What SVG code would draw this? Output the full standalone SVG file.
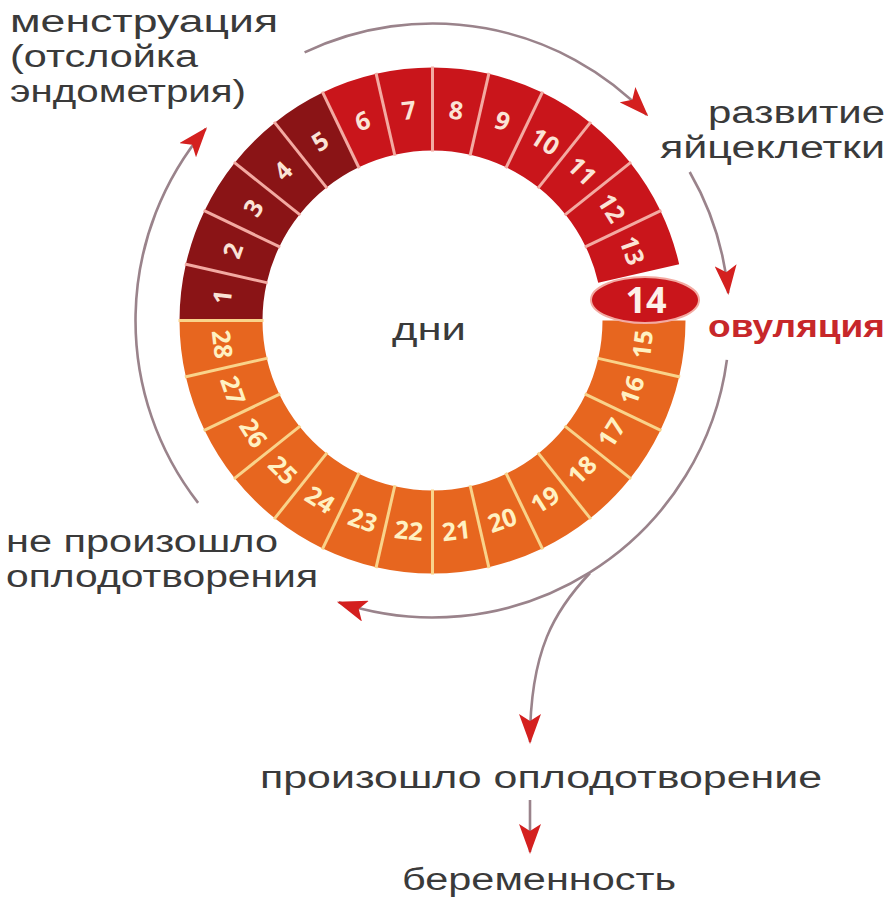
<svg xmlns="http://www.w3.org/2000/svg" width="890" height="904" viewBox="0 0 890 904">
<style>
.lbl{font-family:"Liberation Sans","Open Sans",sans-serif;font-size:31px;fill:#3a3a3a}
.red-lbl{fill:#c7272a;font-weight:700}
.seg{fill:none;stroke-width:83}
.dark{stroke:#8a1416}
.redd{stroke:#c9151b}
.orng{stroke:#e7661f}
.sepR{stroke:#f3aaa2;stroke-width:3}
.sepO{stroke:#f9d38a;stroke-width:3}
.num{font-family:"Open Sans","DejaVu Sans",sans-serif;font-weight:700;font-size:25px;text-anchor:middle}
.numR{fill:#fbe3d6}
.numO{fill:#fff1c2}
.conn{fill:none;stroke:#9a838b;stroke-width:2.6;marker-end:url(#ah)}
</style>
<defs>
<marker id="ah" markerUnits="userSpaceOnUse" markerWidth="30" markerHeight="22" viewBox="0 0 30 22" refX="28" refY="11" orient="auto">
<path d="M0,0 L30,11 L0,22 L7,11 z" fill="#d4201f"/>
</marker>
</defs>
<rect width="890" height="904" fill="#ffffff"/>

<g id="ring">
<g id="day-1"><path class="seg dark" d="M221,320.5 A211.5,211.5 0 0 1 226.3,273.44"/><text class="num numR" y="9" transform="translate(432.5 320.5) rotate(6.43) translate(-211.5 0) rotate(-90)">1</text></g>
<g id="day-2"><path class="seg dark" d="M226.3,273.44 A211.5,211.5 0 0 1 241.95,228.73"/><text class="num numR" y="9" transform="translate(432.5 320.5) rotate(19.29) translate(-211.5 0) rotate(-90)">2</text></g>
<g id="day-3"><path class="seg dark" d="M241.95,228.73 A211.5,211.5 0 0 1 267.14,188.63"/><text class="num numR" y="9" transform="translate(432.5 320.5) rotate(32.14) translate(-211.5 0) rotate(-90)">3</text></g>
<g id="day-4"><path class="seg dark" d="M267.14,188.63 A211.5,211.5 0 0 1 300.63,155.14"/><text class="num numR" y="9" transform="translate(432.5 320.5) rotate(45) translate(-211.5 0) rotate(-90)">4</text></g>
<g id="day-5"><path class="seg dark" d="M300.63,155.14 A211.5,211.5 0 0 1 340.73,129.95"/><text class="num numR" y="9" transform="translate(432.5 320.5) rotate(57.86) translate(-211.5 0) rotate(-90)">5</text></g>
<g id="day-6"><path class="seg redd" d="M340.73,129.95 A211.5,211.5 0 0 1 385.44,114.3"/><text class="num numR" y="9" transform="translate(432.5 320.5) rotate(70.71) translate(-211.5 0) rotate(-90)">6</text></g>
<g id="day-7"><path class="seg redd" d="M385.44,114.3 A211.5,211.5 0 0 1 432.5,109"/><text class="num numR" y="9" transform="translate(432.5 320.5) rotate(83.57) translate(-211.5 0) rotate(-90)">7</text></g>
<g id="day-8"><path class="seg redd" d="M432.5,109 A211.5,211.5 0 0 1 479.56,114.3"/><text class="num numR" y="9" transform="translate(432.5 320.5) rotate(96.43) translate(-211.5 0) rotate(-90)">8</text></g>
<g id="day-9"><path class="seg redd" d="M479.56,114.3 A211.5,211.5 0 0 1 524.27,129.95"/><text class="num numR" y="9" transform="translate(432.5 320.5) rotate(109.29) translate(-211.5 0) rotate(-90)">9</text></g>
<g id="day-10"><path class="seg redd" d="M524.27,129.95 A211.5,211.5 0 0 1 564.37,155.14"/><text class="num numR" y="9" transform="translate(432.5 320.5) rotate(122.14) translate(-211.5 0) rotate(-90)">10</text></g>
<g id="day-11"><path class="seg redd" d="M564.37,155.14 A211.5,211.5 0 0 1 597.86,188.63"/><text class="num numR" y="9" transform="translate(432.5 320.5) rotate(135) translate(-211.5 0) rotate(-90)">11</text></g>
<g id="day-12"><path class="seg redd" d="M597.86,188.63 A211.5,211.5 0 0 1 623.05,228.73"/><text class="num numR" y="9" transform="translate(432.5 320.5) rotate(147.86) translate(-211.5 0) rotate(-90)">12</text></g>
<g id="day-13"><path class="seg redd" d="M623.05,228.73 A211.5,211.5 0 0 1 638.7,273.44"/><text class="num numR" y="9" transform="translate(432.5 320.5) rotate(160.71) translate(-211.5 0) rotate(-90)">13</text></g>
<g id="day-15"><path class="seg orng" d="M644,320.5 A211.5,211.5 0 0 1 638.7,367.56"/><text class="num numO" y="9" transform="translate(432.5 320.5) rotate(186.43) translate(-211.5 0) rotate(90)">15</text></g>
<g id="day-16"><path class="seg orng" d="M638.7,367.56 A211.5,211.5 0 0 1 623.05,412.27"/><text class="num numO" y="9" transform="translate(432.5 320.5) rotate(199.29) translate(-211.5 0) rotate(90)">16</text></g>
<g id="day-17"><path class="seg orng" d="M623.05,412.27 A211.5,211.5 0 0 1 597.86,452.37"/><text class="num numO" y="9" transform="translate(432.5 320.5) rotate(212.14) translate(-211.5 0) rotate(90)">17</text></g>
<g id="day-18"><path class="seg orng" d="M597.86,452.37 A211.5,211.5 0 0 1 564.37,485.86"/><text class="num numO" y="9" transform="translate(432.5 320.5) rotate(225) translate(-211.5 0) rotate(90)">18</text></g>
<g id="day-19"><path class="seg orng" d="M564.37,485.86 A211.5,211.5 0 0 1 524.27,511.05"/><text class="num numO" y="9" transform="translate(432.5 320.5) rotate(237.86) translate(-211.5 0) rotate(90)">19</text></g>
<g id="day-20"><path class="seg orng" d="M524.27,511.05 A211.5,211.5 0 0 1 479.56,526.7"/><text class="num numO" y="9" transform="translate(432.5 320.5) rotate(250.71) translate(-211.5 0) rotate(90)">20</text></g>
<g id="day-21"><path class="seg orng" d="M479.56,526.7 A211.5,211.5 0 0 1 432.5,532"/><text class="num numO" y="9" transform="translate(432.5 320.5) rotate(263.57) translate(-211.5 0) rotate(90)">21</text></g>
<g id="day-22"><path class="seg orng" d="M432.5,532 A211.5,211.5 0 0 1 385.44,526.7"/><text class="num numO" y="9" transform="translate(432.5 320.5) rotate(276.43) translate(-211.5 0) rotate(90)">22</text></g>
<g id="day-23"><path class="seg orng" d="M385.44,526.7 A211.5,211.5 0 0 1 340.73,511.05"/><text class="num numO" y="9" transform="translate(432.5 320.5) rotate(289.29) translate(-211.5 0) rotate(90)">23</text></g>
<g id="day-24"><path class="seg orng" d="M340.73,511.05 A211.5,211.5 0 0 1 300.63,485.86"/><text class="num numO" y="9" transform="translate(432.5 320.5) rotate(302.14) translate(-211.5 0) rotate(90)">24</text></g>
<g id="day-25"><path class="seg orng" d="M300.63,485.86 A211.5,211.5 0 0 1 267.14,452.37"/><text class="num numO" y="9" transform="translate(432.5 320.5) rotate(315) translate(-211.5 0) rotate(90)">25</text></g>
<g id="day-26"><path class="seg orng" d="M267.14,452.37 A211.5,211.5 0 0 1 241.95,412.27"/><text class="num numO" y="9" transform="translate(432.5 320.5) rotate(327.86) translate(-211.5 0) rotate(90)">26</text></g>
<g id="day-27"><path class="seg orng" d="M241.95,412.27 A211.5,211.5 0 0 1 226.3,367.56"/><text class="num numO" y="9" transform="translate(432.5 320.5) rotate(340.71) translate(-211.5 0) rotate(90)">27</text></g>
<g id="day-28"><path class="seg orng" d="M226.3,367.56 A211.5,211.5 0 0 1 221,320.5"/><text class="num numO" y="9" transform="translate(432.5 320.5) rotate(353.57) translate(-211.5 0) rotate(90)">28</text></g>
</g>

<g id="separators" transform="translate(432.5 320.5)">
<line class="sepO" x1="-169" y1="0" x2="-254" y2="0"/>
<line class="sepR" x1="-169" y1="0" x2="-254" y2="0" transform="rotate(12.857)"/>
<line class="sepR" x1="-169" y1="0" x2="-254" y2="0" transform="rotate(25.714)"/>
<line class="sepR" x1="-169" y1="0" x2="-254" y2="0" transform="rotate(38.571)"/>
<line class="sepR" x1="-169" y1="0" x2="-254" y2="0" transform="rotate(51.429)"/>
<line class="sepR" x1="-169" y1="0" x2="-254" y2="0" transform="rotate(64.286)"/>
<line class="sepR" x1="-169" y1="0" x2="-254" y2="0" transform="rotate(77.143)"/>
<line class="sepR" x1="-169" y1="0" x2="-254" y2="0" transform="rotate(90)"/>
<line class="sepR" x1="-169" y1="0" x2="-254" y2="0" transform="rotate(102.857)"/>
<line class="sepR" x1="-169" y1="0" x2="-254" y2="0" transform="rotate(115.714)"/>
<line class="sepR" x1="-169" y1="0" x2="-254" y2="0" transform="rotate(128.571)"/>
<line class="sepR" x1="-169" y1="0" x2="-254" y2="0" transform="rotate(141.429)"/>
<line class="sepR" x1="-169" y1="0" x2="-254" y2="0" transform="rotate(154.286)"/>
<line class="sepO" x1="-169" y1="0" x2="-254" y2="0" transform="rotate(192.857)"/>
<line class="sepO" x1="-169" y1="0" x2="-254" y2="0" transform="rotate(205.714)"/>
<line class="sepO" x1="-169" y1="0" x2="-254" y2="0" transform="rotate(218.571)"/>
<line class="sepO" x1="-169" y1="0" x2="-254" y2="0" transform="rotate(231.429)"/>
<line class="sepO" x1="-169" y1="0" x2="-254" y2="0" transform="rotate(244.286)"/>
<line class="sepO" x1="-169" y1="0" x2="-254" y2="0" transform="rotate(257.143)"/>
<line class="sepO" x1="-169" y1="0" x2="-254" y2="0" transform="rotate(270)"/>
<line class="sepO" x1="-169" y1="0" x2="-254" y2="0" transform="rotate(282.857)"/>
<line class="sepO" x1="-169" y1="0" x2="-254" y2="0" transform="rotate(295.714)"/>
<line class="sepO" x1="-169" y1="0" x2="-254" y2="0" transform="rotate(308.571)"/>
<line class="sepO" x1="-169" y1="0" x2="-254" y2="0" transform="rotate(321.429)"/>
<line class="sepO" x1="-169" y1="0" x2="-254" y2="0" transform="rotate(334.286)"/>
<line class="sepO" x1="-169" y1="0" x2="-254" y2="0" transform="rotate(347.143)"/>
</g>

<g id="day-14">
<ellipse cx="645" cy="300" rx="54" ry="23" fill="#c9151b" stroke="#f3aaa2" stroke-width="2"/>
<text x="646" y="313" text-anchor="middle" font-family="Open Sans, DejaVu Sans, sans-serif" font-weight="700" font-size="36" fill="#fdf0ea">14</text>
</g>

<g id="connectors">
<path class="conn" d="M304.6,52.4 A297,297 0 0 1 646.8,114.9"/>
<path class="conn" d="M689.7,172 A297,297 0 0 1 728.2,293.1"/>
<path class="conn" d="M726.9,359.8 A297,297 0 0 1 338.8,602.3"/>
<path class="conn" d="M590,573 C555,610 530,650 530,742"/>
<path class="conn" d="M198.1,502.9 A297,297 0 0 1 205.7,128.8"/>
<path class="conn" d="M530,800 L530,852"/>
</g>

<g id="label-menstruation">
<text class="lbl" x="10" y="32" textLength="268" lengthAdjust="spacingAndGlyphs">менструация</text>
<text class="lbl" x="10" y="67" textLength="188" lengthAdjust="spacingAndGlyphs">(отслойка</text>
<text class="lbl" x="10" y="102" textLength="236" lengthAdjust="spacingAndGlyphs">эндометрия)</text>
</g>
<g id="label-egg">
<text class="lbl" x="708" y="123" textLength="177" lengthAdjust="spacingAndGlyphs">развитие</text>
<text class="lbl" x="660" y="158" textLength="225" lengthAdjust="spacingAndGlyphs">яйцеклетки</text>
</g>
<g id="label-ovulation">
<text class="lbl red-lbl" x="708" y="337" textLength="177" lengthAdjust="spacingAndGlyphs">овуляция</text>
</g>
<g id="label-days">
<text class="lbl" x="392" y="340" textLength="74" lengthAdjust="spacingAndGlyphs">дни</text>
</g>
<g id="label-no-fert">
<text class="lbl" x="6" y="552" textLength="272" lengthAdjust="spacingAndGlyphs">не произошло</text>
<text class="lbl" x="6" y="587" textLength="312" lengthAdjust="spacingAndGlyphs">оплодотворения</text>
</g>
<g id="label-fert">
<text class="lbl" x="260" y="788" textLength="562" lengthAdjust="spacingAndGlyphs">произошло оплодотворение</text>
</g>
<g id="label-pregnancy">
<text class="lbl" x="402" y="890" textLength="274" lengthAdjust="spacingAndGlyphs">беременность</text>
</g>
</svg>
